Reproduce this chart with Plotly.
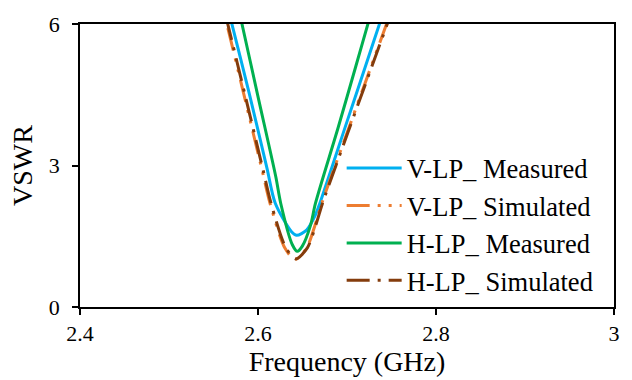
import plotly.graph_objects as go

# V-LP Measured
f_vm = [2.555, 2.570, 2.590, 2.610, 2.6194, 2.6379, 2.6434, 2.6546, 2.6640, 2.6695, 2.700, 2.720, 2.740, 2.755]
v_vm = [7.17, 6.05, 4.54, 2.95, 2.20, 1.59, 1.52, 1.63, 1.93, 2.20, 3.93, 5.06, 6.20, 7.04]

# V-LP Simulated
f_vs = [2.552, 2.565, 2.585, 2.605, 2.6135, 2.6302, 2.6416, 2.6546, 2.6640, 2.6717, 2.700, 2.720, 2.745, 2.760]
v_vs = [7.00, 6.00, 4.44, 2.87, 2.20, 1.25, 1.01, 1.25, 1.73, 2.20, 3.69, 4.73, 6.03, 6.81]

# H-LP Measured
f_hm = [2.565, 2.582, 2.600, 2.620, 2.6255, 2.6386, 2.6442, 2.6498, 2.6590, 2.6646, 2.690, 2.710, 2.725, 2.740]
v_hm = [7.40, 6.00, 4.46, 2.76, 2.20, 1.32, 1.18, 1.29, 1.73, 2.20, 3.80, 5.11, 6.10, 7.10]

# H-LP Simulated
f_hs = [2.553, 2.566, 2.586, 2.606, 2.6145, 2.6312, 2.6426, 2.6556, 2.6650, 2.6727, 2.701, 2.721, 2.746, 2.761]
v_hs = [7.00, 6.00, 4.45, 2.88, 2.21, 1.26, 1.02, 1.26, 1.74, 2.21, 3.70, 4.74, 6.04, 6.82]

names = ["V-LP_ Measured", "V-LP_ Simulated", "H-LP_ Measured", "H-LP_ Simulated"]
colors = ["#00B0F0", "#ED7D31", "#00B050", "#843C0C"]
dashes = ["solid", "23px,8px,3px,8px,3px,8px", "solid", "23px,8px,3px,8px"]

FONT = "Times New Roman, Liberation Serif, serif"

fig = go.Figure()
for f, v, n, c, d in [(f_vm, v_vm, names[0], colors[0], dashes[0]),
                      (f_vs, v_vs, names[1], colors[1], dashes[1]),
                      (f_hm, v_hm, names[2], colors[2], dashes[2]),
                      (f_hs, v_hs, names[3], colors[3], dashes[3])]:
    fig.add_trace(go.Scatter(x=f, y=v, mode="lines", name=n,
                             line=dict(color=c, width=3, dash=d, shape="spline", smoothing=0.8)))

fig.update_layout(
    width=632, height=380,
    margin=dict(l=80, r=14, t=14, b=72),
    paper_bgcolor="white", plot_bgcolor="white",
    font=dict(family=FONT, color="black", size=22),
    showlegend=True,
    legend=dict(x=0.49, y=0.575, xanchor="left", yanchor="top",
                bgcolor="rgba(0,0,0,0)", font=dict(family=FONT, size=26.5, color="black"),
                itemwidth=55, tracegroupgap=0),
    xaxis=dict(range=[2.4, 3.0], tickvals=[2.4, 2.6, 2.8, 3.0], ticktext=["2.4", "2.6", "2.8", "3"],
               showgrid=False, zeroline=False, showline=True, linecolor="black", linewidth=1.8,
               mirror=True, ticks="outside", ticklen=6, tickwidth=1.5, tickcolor="black",
               tickfont=dict(family=FONT, size=22),
               title=dict(text="Frequency (GHz)", font=dict(family=FONT, size=28), standoff=2)),
    yaxis=dict(range=[0, 6], tickvals=[0, 3, 6],
               showgrid=False, zeroline=False, showline=True, linecolor="black", linewidth=1.8,
               mirror=True, ticks="outside", ticklen=6, tickwidth=1.5, tickcolor="black",
               tickfont=dict(family=FONT, size=22), ticklabelstandoff=8,
               title=dict(text="VSWR", font=dict(family=FONT, size=28), standoff=8)),
)

fig.write_html("out.html")
